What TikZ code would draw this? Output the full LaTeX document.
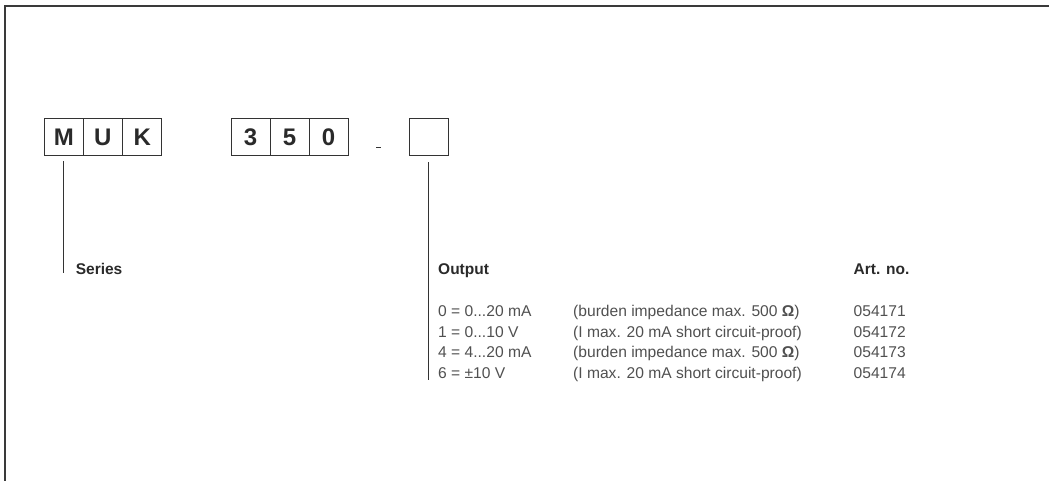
\documentclass[tikz,border=0pt]{standalone}
\usepackage{fontspec}
\setmainfont{Liberation Sans}
\definecolor{frame}{HTML}{3A3A3A}
\definecolor{boxline}{HTML}{333333}
\definecolor{headtext}{HTML}{2A2A2A}
\definecolor{bodytext}{HTML}{505050}
\begin{document}
\begin{tikzpicture}[x=1pt,y=-1pt,
  cell/.style={draw=boxline, line width=1pt, minimum width=39pt, minimum height=37pt,
    inner sep=0pt, text height=17pt, text depth=0pt, font=\fontsize{24}{24}\selectfont\bfseries, text=headtext},
  head/.style={anchor=base west, inner sep=0pt, font=\fontsize{15.5}{18}\selectfont\bfseries, text=headtext},
  body/.style={anchor=base west, inner sep=0pt, font=\fontsize{15.6}{18}\selectfont, text=bodytext},
  leader/.style={draw=boxline, line width=0.9pt}]
\useasboundingbox (0,0) rectangle (1049,481);
% frame
\draw[frame, line width=1.3pt] (5,481) -- (5,6) -- (1049,6);
% code boxes
\node[cell] (cM) at (63.75,137.5) {M};
\node[cell] (cU) at (102.9,137.5) {U};
\node[cell] (cK) at (142.2,137.5) {K};
\node[cell] (c3) at (250.5,137.5) {3};
\node[cell] (c5) at (289.5,137.5) {5};
\node[cell] (c0) at (328.6,137.5) {0};
\node[cell] (cX) at (428.5,137.5) {};
\coordinate (dA) at (376,147.5);
\coordinate (dB) at (381,147.5);
\draw[boxline, line width=1.2pt] (dA) -- (dB);
% leaders
\coordinate (seriesEnd) at (63.75,273);
\coordinate (outputEnd) at (428.5,380);
\draw[leader] ([yshift=-5pt]cM.south) -- (seriesEnd);
\draw[leader] ([yshift=-6pt]cX.south) -- (outputEnd);
% texts
\node[head] (series) at (75.6,274) {Series};
\node[head] (output) at (438,274) {Output};
\node[head] (artno) at (853.5,274) {Art. no.};
\node[body] (r1a) at (438,316.5) {0 = 0...20 mA};
\node[body] (r1b) at (573,316.5) {(burden impedance max. 500 {\bfseries Ω})};
\node[body] (r1c) at (853.5,316.5) {054171};
\node[body] (r2a) at (438,337) {1 = 0...10 V};
\node[body] (r2b) at (573,337) {(I max. 20 mA short circuit-proof)};
\node[body] (r2c) at (853.5,337) {054172};
\node[body] (r3a) at (438,357.5) {4 = 4...20 mA};
\node[body] (r3b) at (573,357.5) {(burden impedance max. 500 {\bfseries Ω})};
\node[body] (r3c) at (853.5,357.5) {054173};
\node[body] (r4a) at (438,378.5) {6 = ±10 V};
\node[body] (r4b) at (573,378.5) {(I max. 20 mA short circuit-proof)};
\node[body] (r4c) at (853.5,378.5) {054174};
\end{tikzpicture}
\end{document}
